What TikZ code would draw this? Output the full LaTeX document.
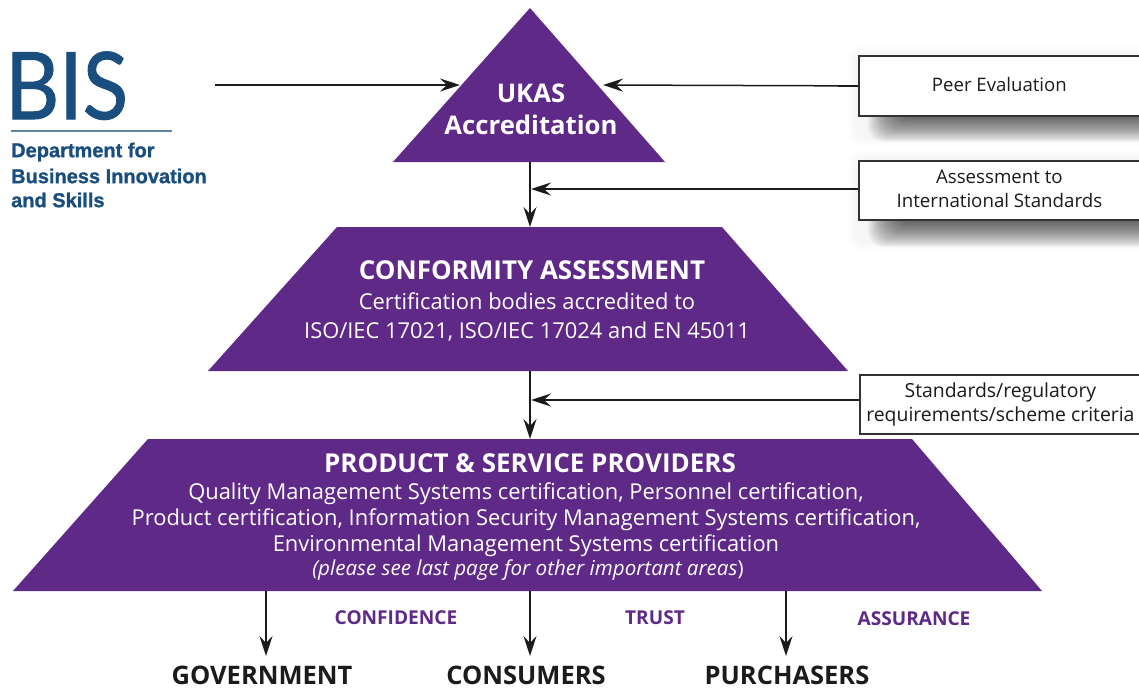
\documentclass[tikz,border=0pt]{standalone}
\usepackage{fontspec}
\setmainfont{Open Sans}
\newfontfamily\bisfont[FakeBold=1.2]{Liberation Sans}
\newfontfamily\bisbig[FakeBold=1.2]{Lato}
\usetikzlibrary{arrows.meta,calc}
\definecolor{bispurple}{HTML}{5F2987}
\definecolor{bisblue}{HTML}{1A4E7E}
\definecolor{inkblack}{HTML}{1D1A1B}
\tikzset{
  x=1pt,y=-1pt,
  panel/.style={fill=bispurple,draw=none},
  conn/.style={draw=inkblack,line width=1.7pt,-{Stealth[length=20pt,width=13pt,inset=7pt]}},
  stub/.style={draw=inkblack,line width=2.4pt},
  sidebox/.style={draw=inkblack!90,line width=1.8pt,fill=white,minimum width=281pt,minimum height=60pt,anchor=north west,align=center,inner sep=0pt,text=inkblack},
  headw/.style={text=white,font=\fontsize{26}{32}\selectfont\bfseries,align=center,inner sep=0pt},
  bodyw/.style={text=white,font=\fontsize{21.9}{26}\selectfont,align=center,inner sep=0pt},
  keyword/.style={text=bispurple,font=\fontsize{19.1}{22}\selectfont\bfseries,inner sep=0pt},
  sink/.style={text=inkblack,font=\fontsize{25.5}{30}\selectfont\bfseries,inner sep=0pt},
  bisdept/.style={text=bisblue,font=\bisfont\fontsize{20}{24}\selectfont\bfseries,anchor=west,inner sep=0pt}
}
\newcommand{\softshadow}[4]{%
  \foreach \g in {0,...,8}{
    \fill[black,opacity=0.004,rounded corners=10pt]
      ({#1-20+\g},{#2-50+\g}) rectangle ({#3+30},{#4+4-\g});
  }%
  \foreach \g in {0,...,23}{
    \fill[black,opacity=0.03,rounded corners=16pt]
      ({#1+\g*1.2},{#2}) rectangle ({#3+30},{#4-\g*1.05});
  }%
}
\begin{document}
\begin{tikzpicture}
\useasboundingbox (0,0) rectangle (1139,689);
\fill[white] (0,0) rectangle (1139,689);
\clip (0,0) rectangle (1139,689);

% shapes
\coordinate (ukasTop) at (530,8);
\coordinate (ukasBaseL) at (393,162);
\coordinate (ukasBaseR) at (665,162);
\coordinate (ukasInL) at (460,85);
\coordinate (ukasInR) at (603,85);
\coordinate (ukasOut) at (530,162);
\fill[panel] (ukasTop) -- (ukasBaseR) -- (ukasBaseL) -- cycle;

\coordinate (confTop) at (530,227);
\coordinate (confOut) at (530,371);
\fill[panel] (337,227) -- (722,227) -- (848,371) -- (208,371) -- cycle;

\coordinate (provTop) at (530,439);
\coordinate (provOutA) at (266,591);
\coordinate (provOutB) at (530,591);
\coordinate (provOutC) at (786,591);
\fill[panel] (148,439) -- (912,439) -- (1042,591) -- (13,591) -- cycle;

% shadows
\softshadow{868}{95}{1139}{142}
\softshadow{868}{200}{1139}{247}

% boxes
\node[sidebox,font=\fontsize{18.6}{24}\selectfont] (peer) at (858,55) {Peer Evaluation\rule[-2pt]{0pt}{1pt}};
\node[sidebox,minimum height=59pt,font=\fontsize{18.7}{24}\selectfont] (assess) at (858,160) {Assessment to\\International Standards\rule[-4pt]{0pt}{1pt}};
\node[sidebox,minimum height=59pt,font=\fontsize{19.4}{24.5}\selectfont] (stds) at (859,374) {Standards/regulatory\\requirements/scheme criteria};

% panel text
\node[headw,font=\fontsize{25.7}{32}\selectfont\bfseries] (ukas) at (531,109) {UKAS\\Accreditation};
\node[headw] (confhead) at (532,270) {CONFORMITY ASSESSMENT};
\node[bodyw,font=\fontsize{21.9}{29}\selectfont] (confbody) at (527,317) {Certification bodies accredited to\\ISO/IEC 17021, ISO/IEC 17024 and EN 45011};
\node[headw] (provhead) at (530,463) {PRODUCT \& SERVICE PROVIDERS};
\node[bodyw] (provbody) at (526,520) {Quality Management Systems certification, Personnel certification,\\Product certification, Information Security Management Systems certification,\\Environmental Management Systems certification};
\node[text=white,font=\fontsize{20.6}{22}\selectfont\itshape,inner sep=0pt] (provnote) at (528,570) {(please see last page for other important areas\textup{)}};

% bottom labels
\node[keyword] (kconf) at (396,618) {CONFIDENCE};
\node[keyword] (ktrust) at (655,618) {TRUST};
\node[keyword] (kass) at (914,619) {ASSURANCE};
\node[sink] (gov) at (262,675) {GOVERNMENT};
\node[sink] (cons) at (526,675) {CONSUMERS};
\node[sink] (purch) at (787,675) {PURCHASERS};
\coordinate (govIn) at (266,656);
\coordinate (consIn) at (530,656);
\coordinate (purchIn) at (786,656);

% logo
\node[text=bisblue,font=\bisbig\fontsize{93}{93}\selectfont,inner sep=0pt,anchor=base west,xscale=0.9] (bis) at (5,119) {BIS};
\draw[bisblue!70,line width=1.5pt] (11,131) -- (172,131);
\node[bisdept] (d1) at (11,152) {Department for};
\node[bisdept] (d2) at (11,176) {Business Innovation};
\node[bisdept] (d3) at (11,200) {and Skills};
\coordinate (bisOut) at (215,85);

% connectors
\draw[conn,line width=1.5pt] (bisOut) -- (ukasInL);
\draw[conn,line width=1.5pt] (peer.west) -- (ukasInR);
\draw[stub] (peer.west) -- ++(-20,0);
\draw[conn] (ukasOut) -- (confTop);
\coordinate (jA) at (531,189);
\coordinate (jB) at (531,400);
\draw[conn] (assess.west |- jA) -- (jA);
\draw[stub] (assess.west |- jA) -- ++(-20,0);
\draw[conn] (confOut) -- (provTop);
\draw[conn] (stds.west |- jB) -- (jB);
\draw[conn] (provOutA) -- (govIn);
\draw[conn] (provOutB) -- (consIn);
\draw[conn] (provOutC) -- (purchIn);
\end{tikzpicture}
\end{document}
